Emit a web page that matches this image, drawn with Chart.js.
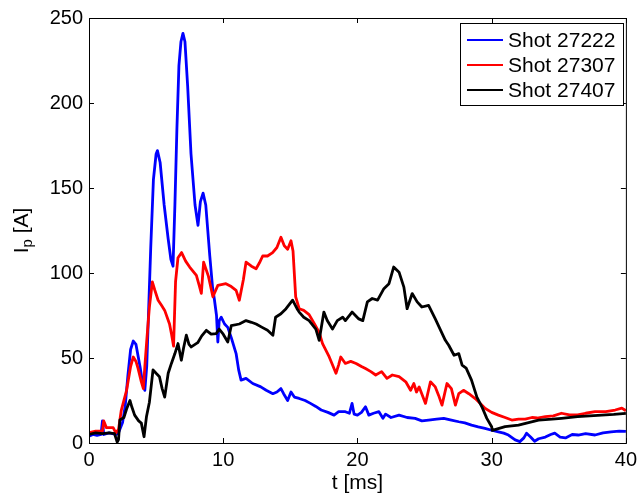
<!DOCTYPE html>
<html>
<head>
<meta charset="utf-8">
<script src="https://cdn.jsdelivr.net/npm/chart.js@4.4.0/dist/chart.umd.min.js"></script>
<style>
  html, body { margin: 0; padding: 0; background: #fff; }
  #plot { display: block; }
</style>
</head>
<body>
<canvas id="plot" width="642" height="496"></canvas>
<script>
// Shot 27222 (blue)
const blueT = [0, 0.3, 0.6, 0.9, 1.0, 1.1, 1.5, 2.0, 2.2, 2.5, 2.7, 2.9, 3.1, 3.3, 3.5, 3.8, 4.0, 4.16, 4.3, 4.45, 4.6, 4.8, 5.0, 5.1, 5.3, 5.6, 5.9, 6.1, 6.26, 6.4, 6.55, 6.7, 6.85, 7.0, 7.15, 7.35, 7.6, 7.9, 8.12, 8.3, 8.5, 8.7, 9.0, 9.2, 9.35, 9.5, 9.6, 9.7, 9.85, 10.1, 10.34, 10.6, 10.96, 11.15, 11.33, 11.7, 12.2, 12.8, 13.2, 13.7, 14.0, 14.3, 14.5, 14.8, 15.05, 15.3, 15.66, 16.1, 16.5, 16.9, 17.3, 17.8, 18.26, 18.6, 19.1, 19.4, 19.6, 19.75, 20.0, 20.3, 20.6, 20.85, 21.2, 21.6, 21.9, 22.1, 22.5, 23.1, 23.7, 24.3, 24.8, 25.3, 25.9, 26.43, 27.0, 27.55, 28.0, 28.5, 29.0, 29.5, 30.0, 30.5, 30.9, 31.25, 31.75, 32.1, 32.4, 32.6, 32.9, 33.2, 33.5, 34.0, 34.4, 34.7, 35.1, 35.5, 36.0, 36.45, 37.0, 37.7, 38.3, 38.9, 39.5, 40];
const blueI = [4, 5, 4.5, 5, 13, 5, 6, 5, 6, 12, 22, 40, 55, 60, 58, 45, 35, 31, 45, 80, 115, 155, 170, 172, 165, 140, 120, 108, 104, 140, 185, 222, 236, 241, 236, 210, 170, 140, 128, 142, 147, 140, 110, 92, 84, 75, 59.4, 72, 74, 70, 68, 62, 52.6, 43, 37, 38, 35, 33, 31, 29, 30, 32, 29, 25, 30, 27, 26.2, 25, 23.3, 21.5, 19.4, 18, 16.4, 18.4, 18.4, 17.5, 23.3, 17, 16.4, 18, 21.3, 16.4, 17.5, 18.4, 14.5, 17, 15, 16.4, 15, 14.5, 13, 13.5, 14, 14.5, 13.5, 12.5, 11.8, 10.5, 9.5, 8.6, 7.5, 6.6, 5.8, 4.7, 1.8, 0.8, 3, 5.7, 3.5, 1, 2.5, 3.5, 5, 5.8, 3.5, 3, 5, 4.7, 5.5, 4.7, 6, 6.6, 7, 6.8];

// Shot 27307 (red)
const redT = [0, 0.5, 1.0, 1.1, 1.3, 1.8, 2.0, 2.2, 2.4, 2.8, 3.1, 3.3, 3.5, 3.65, 3.9, 4.05, 4.16, 4.3, 4.5, 4.72, 4.9, 5.15, 5.4, 5.64, 6.0, 6.15, 6.3, 6.45, 6.63, 6.9, 7.2, 7.5, 8.0, 8.2, 8.37, 8.54, 8.9, 9.23, 9.6, 10.2, 10.6, 10.96, 11.2, 11.5, 11.7, 12.1, 12.45, 12.7, 12.94, 13.3, 13.68, 14.0, 14.3, 14.55, 14.8, 15.05, 15.2, 15.4, 15.66, 16.0, 16.4, 16.8, 17.15, 17.4, 17.9, 18.4, 18.6, 18.76, 19.1, 19.5, 19.9, 20.3, 20.6, 21.0, 21.36, 21.8, 22.2, 22.6, 23.1, 23.6, 23.96, 24.2, 24.4, 24.6, 25.07, 25.44, 25.8, 26.05, 26.3, 26.67, 27.0, 27.3, 27.55, 27.9, 28.3, 28.8, 29.15, 29.5, 30.0, 30.5, 31.0, 31.5, 32.0, 32.5, 33.0, 33.4, 34.0, 34.6, 35.2, 35.8, 36.4, 37.0, 37.7, 38.5, 39.2, 39.7, 40];
const redI = [6, 7, 7, 13, 9, 9, 6, 8, 19, 31, 45, 50.6, 48, 44, 36, 32, 45, 60, 80, 94.7, 90, 84, 81, 78, 70, 64, 57, 95, 109, 112, 107, 103.5, 98.6, 93, 88, 106.4, 98, 86, 92.7, 93.7, 92, 89.8, 84, 96, 106.4, 104, 102.5, 106, 110, 110, 112, 115, 121, 116, 114, 119, 113, 86, 79, 78, 75.5, 70, 65, 58.5, 50.6, 41, 46, 50.6, 46.8, 48, 46.8, 45, 43.8, 42, 40, 42, 38, 40, 39, 36, 31, 35, 30, 33, 23.3, 36, 33, 28, 22.3, 35, 32, 22.3, 29, 31, 29, 26, 23.3, 20.4, 18, 16.4, 15, 13.5, 14, 14, 15, 14.7, 15.5, 16, 17.5, 16.5, 16.5, 17.5, 18.4, 18.5, 19.4, 20.5, 19];

// Shot 27407 (black)
const blackT = [0, 0.5, 1.0, 1.5, 1.9, 2.1, 2.2, 2.3, 2.6, 2.8, 3.05, 3.2, 3.4, 3.7, 3.9, 4.1, 4.28, 4.5, 4.77, 5.0, 5.25, 5.45, 5.64, 5.9, 6.14, 6.4, 6.63, 6.88, 7.05, 7.25, 7.45, 7.62, 8.1, 8.4, 8.74, 9.1, 9.48, 9.7, 10.0, 10.34, 10.6, 11.2, 11.7, 12.1, 12.45, 12.9, 13.3, 13.7, 13.9, 14.3, 14.68, 15.17, 15.5, 15.66, 16.0, 16.4, 16.9, 17.15, 17.5, 17.75, 18.14, 18.5, 18.9, 19.1, 19.6, 20.1, 20.4, 20.74, 21.1, 21.5, 21.97, 22.35, 22.7, 23.1, 23.46, 23.7, 24.08, 24.45, 24.8, 25.3, 25.8, 26.2, 26.55, 26.8, 27.2, 27.55, 27.8, 28.1, 28.5, 28.9, 29.27, 29.64, 30.0, 30.05, 31.0, 32.0, 33.5, 34.5, 35.2, 36.4, 37.3, 38.2, 39.1, 40];
const blackI = [5, 6, 5.5, 6, 5.5, 0.5, 2, 13.5, 15, 20, 25, 21, 16.4, 13, 11.7, 3.7, 15.4, 24, 43, 41, 39, 32, 27, 41, 46.8, 52.6, 58.5, 48.7, 56, 63.4, 58, 56.5, 59, 63, 66.3, 64, 64.4, 67, 64, 59.4, 69, 70, 72, 71, 70, 68, 66.3, 63.4, 74, 76, 79, 84, 79, 77, 74, 72, 67, 60.4, 77, 72, 67, 72, 74, 72, 77, 73, 72, 83, 85, 84, 90.8, 93.7, 103.5, 100.5, 91.7, 79, 87.9, 83, 80, 81, 73, 66.3, 60.4, 57.5, 51.6, 52.6, 45.8, 44, 37, 27, 21.3, 14.5, 9.6, 7.4, 9.6, 10.5, 13.5, 14, 14.5, 15.5, 16, 16.4, 16.8, 17.4];

const shotLabels = ['Shot 27222', 'Shot 27307', 'Shot 27407'];
const xTicks = [0, 10, 20, 30, 40];
const yTicks = [0, 50, 100, 150, 200, 250];

function toPoints(t, v) {
    return t.map((x, i) => ({ x: x, y: v[i] }));
}

const FONT = '"Liberation Sans", Arial, Helvetica, sans-serif';

// MATLAB style frame: box, inward ticks on all sides, y title with subscript, legend inside
const framePlugin = {
    id: 'frame',
    afterDraw(chart) {
        const ctx = chart.ctx;
        const a = chart.chartArea;
        const xs = chart.scales.x;
        const ys = chart.scales.y;
        ctx.save();
        ctx.strokeStyle = '#000';
        ctx.lineWidth = 1;
        ctx.strokeRect(a.left + 0.5, a.top + 0.5, a.right - a.left, a.bottom - a.top);
        ctx.beginPath();
        const len = 5;
        xTicks.forEach(v => {
            const px = Math.round(xs.getPixelForValue(v)) + 0.5;
            ctx.moveTo(px, a.bottom); ctx.lineTo(px, a.bottom - len);
            ctx.moveTo(px, a.top); ctx.lineTo(px, a.top + len);
        });
        yTicks.forEach(v => {
            const py = Math.round(ys.getPixelForValue(v)) + 0.5;
            ctx.moveTo(a.left, py); ctx.lineTo(a.left + len, py);
            ctx.moveTo(a.right, py); ctx.lineTo(a.right - len, py);
        });
        ctx.stroke();

        // y axis title: I_p [A]
        ctx.translate(22, (a.top + a.bottom) / 2);
        ctx.rotate(-Math.PI / 2);
        ctx.fillStyle = '#000';
        ctx.textBaseline = 'middle';
        const big = '21px ' + FONT, small = '15px ' + FONT;
        ctx.font = big;
        const wI = ctx.measureText('I').width;
        const wA = ctx.measureText(' [A]').width;
        ctx.font = small;
        const wp = ctx.measureText('p').width;
        let x0 = -(wI + wp + wA) / 2;
        ctx.font = big;
        ctx.fillText('I', x0, 0);
        ctx.font = small;
        ctx.fillText('p', x0 + wI, 6);
        ctx.font = big;
        ctx.fillText(' [A]', x0 + wI + wp, 0);
        ctx.setTransform(1, 0, 0, 1, 0, 0);

        // legend box
        const bx = 460, by = 23, bw = 163, bh = 82;
        ctx.fillStyle = '#fff';
        ctx.fillRect(bx, by, bw, bh);
        ctx.strokeRect(bx + 0.5, by + 0.5, bw, bh);
        ctx.font = '21px ' + FONT;
        ctx.textBaseline = 'middle';
        chart.data.datasets.forEach((ds, i) => {
            const ry = by + 17 + i * 25;
            ctx.strokeStyle = ds.borderColor;
            ctx.lineWidth = 2;
            ctx.beginPath();
            ctx.moveTo(bx + 7, ry); ctx.lineTo(bx + 43, ry);
            ctx.stroke();
            ctx.fillStyle = '#000';
            ctx.fillText(ds.label, bx + 48, ry + 1);
        });
        ctx.restore();
    }
};

const ctx = document.getElementById('plot').getContext('2d');
new Chart(ctx, {
    type: 'line',
    data: {
        datasets: [
            { label: shotLabels[0], data: toPoints(blueT, blueI), borderColor: '#0000ff', order: 2 },
            { label: shotLabels[1], data: toPoints(redT, redI), borderColor: '#ff0000', order: 1 },
            { label: shotLabels[2], data: toPoints(blackT, blackI), borderColor: '#000000', order: 0 }
        ]
    },
    options: {
        responsive: false,
        animation: false,
        elements: {
            point: { radius: 0 },
            line: { borderWidth: 2.8, tension: 0, borderJoinStyle: 'round' }
        },
        layout: { padding: { top: 17, right: 15, left: 0, bottom: 0 } },
        plugins: {
            legend: { display: false },
            tooltip: { enabled: false }
        },
        scales: {
            x: {
                type: 'linear',
                min: 0,
                max: 40,
                grid: { display: false, drawTicks: false },
                border: { display: false },
                afterBuildTicks: s => { s.ticks = xTicks.map(v => ({ value: v })); },
                afterFit: s => { s.height = 53; },
                ticks: {
                    color: '#000',
                    font: { family: FONT, size: 20 },
                    padding: 5,
                    maxRotation: 0
                },
                title: {
                    display: true,
                    text: 't [ms]',
                    color: '#000',
                    font: { family: FONT, size: 21 },
                    padding: { top: 0, bottom: 0 }
                }
            },
            y: {
                min: 0,
                max: 250,
                grid: { display: false, drawTicks: false },
                border: { display: false },
                afterBuildTicks: s => { s.ticks = yTicks.map(v => ({ value: v })); },
                afterFit: s => { s.width = 89; },
                ticks: {
                    color: '#000',
                    font: { family: FONT, size: 20 },
                    padding: 6
                }
            }
        }
    },
    plugins: [framePlugin]
});
</script>
</body>
</html>
